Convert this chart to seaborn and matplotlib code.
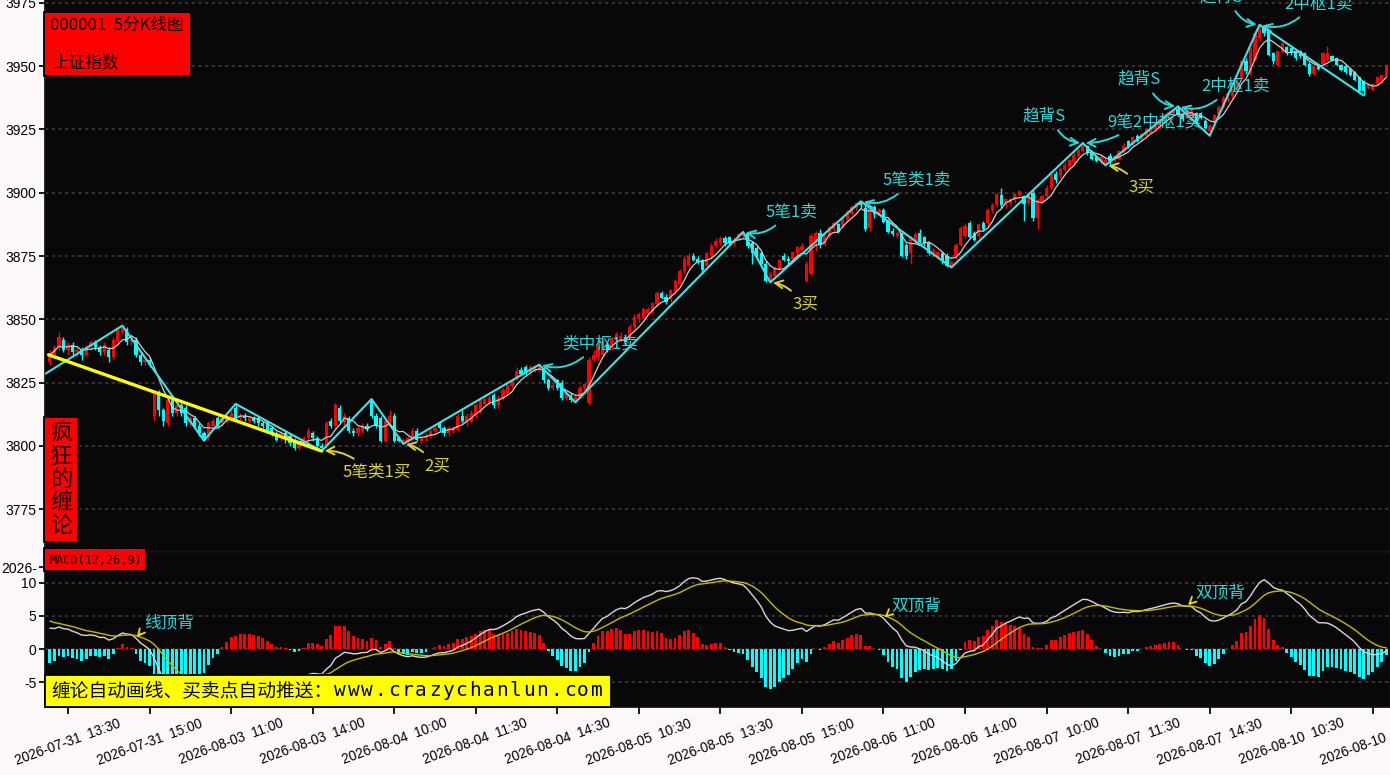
import numpy as np
import pandas as pd
import matplotlib
matplotlib.use("Agg")
import matplotlib.pyplot as plt
from matplotlib.patches import Rectangle
import seaborn as sns

# 5-minute bars of 000001, 2026-07-31 13:10 ... 2026-08-10 13:45 (one row per day)
opens = [
    3833, 3836, 3839, 3842, 3838, 3840, 3837, 3838, 3836, 3839, 3841, 3839, 3837, 3838, 3835, 3841, 3845, 3846, 3841, 3842, 3836, 3833, 3834,
    3812, 3821, 3814, 3809, 3818, 3813, 3816, 3815, 3809, 3811, 3808, 3805, 3803, 3808, 3811, 3809, 3810, 3811, 3815, 3811, 3812, 3810, 3811, 3811,
    3809, 3809, 3807, 3805, 3803, 3805, 3804, 3802, 3799, 3801, 3803, 3805, 3803, 3800, 3800, 3810, 3808, 3815, 3809, 3811, 3806, 3805, 3806, 3808,
    3818, 3812, 3811, 3802, 3809.5, 3812, 3803, 3802, 3802, 3802.5, 3806, 3802, 3803, 3804, 3806, 3809, 3807, 3805, 3806, 3806.5, 3812, 3809, 3810, 3812,
    3814, 3816.5, 3817, 3820, 3816, 3819, 3821, 3823.5, 3827, 3830, 3831, 3829, 3829.5, 3830, 3830, 3826, 3823, 3826, 3825, 3819, 3820, 3818, 3819.5, 3823,
    3817, 3834, 3835, 3836, 3840, 3839, 3842, 3842, 3843, 3843.5, 3847, 3850, 3850.5, 3852.5, 3853, 3856, 3860.5, 3859, 3858, 3861, 3864, 3869, 3871, 3875,
    3874, 3873.5, 3871, 3875, 3879, 3880, 3882, 3882.5, 3880, 3882, 3883, 3884, 3880, 3878, 3876, 3872, 3865, 3867, 3870, 3875, 3874, 3874, 3876, 3877.5,
    3865, 3868, 3880, 3884, 3879.5, 3883, 3885.5, 3887.5, 3887, 3889.5, 3891.5, 3894, 3896, 3894, 3886, 3894.5, 3892, 3893, 3889, 3885, 3883, 3884, 3879.5, 3876,
    3881, 3884, 3882.5, 3880, 3876, 3875, 3876, 3875, 3871, 3875, 3879.5, 3883, 3888, 3884, 3883, 3888, 3888, 3893, 3895, 3899, 3895, 3896, 3897, 3899,
    3898.5, 3896, 3900, 3890, 3896.5, 3898.5, 3902, 3907.5, 3907, 3909, 3910, 3912, 3914.5, 3916.5, 3918.5, 3916, 3914, 3912.5, 3911.5, 3914.5, 3912.5, 3913.5, 3916, 3920.5,
    3919, 3922.5, 3921, 3922.5, 3923.5, 3925, 3926, 3928.5, 3930, 3931, 3933, 3931, 3930, 3930.5, 3931.5, 3931.5, 3928.5, 3924.5, 3928, 3931, 3934, 3936.5, 3938, 3940.5,
    3945, 3952, 3947, 3952.5, 3961, 3966, 3964, 3955, 3950.5, 3955.5, 3957.5, 3957, 3956, 3956, 3955, 3951, 3947, 3950.5, 3951, 3952.5, 3954, 3953, 3950.5, 3950,
    3949, 3947.5, 3945.5, 3944, 3941.5, 3940.5, 3943, 3944, 3946,
]
closes = [
    3836, 3839, 3843, 3838, 3840, 3837, 3838, 3836, 3839, 3841, 3839, 3837, 3840, 3835, 3842, 3846, 3846.5, 3841, 3842, 3836, 3833, 3834, 3832,
    3821, 3814, 3810, 3818, 3813, 3816, 3813, 3809, 3811, 3808, 3805, 3803, 3809, 3810, 3808, 3811, 3812, 3813, 3811, 3812, 3811, 3811, 3810, 3809,
    3808, 3806, 3805, 3802.5, 3805, 3803, 3801, 3799, 3801, 3803, 3806, 3803, 3800, 3799, 3809, 3808, 3816, 3810, 3812, 3806, 3805, 3807, 3808, 3807,
    3812, 3808, 3802, 3810, 3812, 3802, 3802, 3802.5, 3803, 3806, 3802.5, 3803, 3804, 3806, 3807, 3807, 3805, 3807, 3807.5, 3812, 3810, 3812, 3813, 3816,
    3818, 3818.5, 3819, 3816, 3819, 3822, 3824, 3826, 3829.5, 3828.5, 3829, 3831, 3831.5, 3832, 3826, 3823, 3824, 3823, 3819, 3820.5, 3818, 3819.5, 3823, 3824.5,
    3834, 3836, 3839, 3841, 3838, 3842.5, 3844, 3843.5, 3841, 3847, 3851, 3852, 3854, 3854, 3856.5, 3860.5, 3858.5, 3857, 3861.5, 3865, 3869, 3874, 3875, 3873.5,
    3872.5, 3869.5, 3876, 3879, 3881, 3882, 3880, 3880, 3881.5, 3883.5, 3884, 3879, 3876, 3875, 3872, 3865, 3868, 3870, 3873.5, 3873.5, 3873, 3876.5, 3878.5, 3879,
    3872, 3883, 3884, 3879.5, 3883.5, 3886.5, 3888, 3884.5, 3890.5, 3892.5, 3894.5, 3896, 3895, 3885.5, 3893.5, 3891.5, 3893, 3888.5, 3884.5, 3883.5, 3884, 3875, 3875, 3882,
    3883.5, 3880.5, 3880, 3876, 3877.5, 3876.5, 3873, 3871, 3872.5, 3879.5, 3886, 3887, 3882.5, 3881.5, 3887.5, 3885.5, 3893, 3895, 3899.5, 3895, 3897.5, 3897.5, 3899.5, 3900.5,
    3895.5, 3899, 3890, 3897, 3898.5, 3902, 3907, 3905, 3909.5, 3911, 3913, 3915, 3917, 3919, 3915.5, 3913.5, 3912.5, 3914, 3913, 3912.5, 3914.5, 3916.5, 3918.5, 3918,
    3922, 3920.5, 3923, 3925, 3926, 3927.5, 3929, 3930.5, 3932, 3932.5, 3931, 3929, 3932.5, 3933, 3927.5, 3929.5, 3925.5, 3926.5, 3930.5, 3934, 3937.5, 3939.5, 3941, 3944.5,
    3952, 3948, 3957, 3963, 3965.5, 3963, 3954.5, 3952, 3956, 3959, 3955, 3955, 3953, 3954, 3950.5, 3947, 3950, 3949, 3955, 3955, 3952.5, 3950.5, 3948.5, 3947.5,
    3946.5, 3944.5, 3940, 3940, 3943, 3943, 3945.5, 3946.5, 3950.5,
]
highs = [
    3838, 3840, 3845, 3843, 3841, 3841, 3839, 3839, 3840, 3842, 3842, 3840, 3841, 3839, 3843, 3847, 3847.5, 3847, 3844, 3843, 3837, 3835, 3835,
    3822, 3822, 3815, 3819, 3819, 3817, 3817, 3816, 3812, 3812, 3809, 3806, 3810, 3811, 3812, 3812, 3813, 3814, 3816.5, 3813, 3813, 3812, 3812, 3812,
    3810, 3810, 3808, 3806, 3806, 3806, 3805, 3803, 3802, 3804, 3807, 3806, 3804, 3801, 3810, 3811, 3817, 3816, 3813, 3812, 3807, 3808, 3809, 3809,
    3818.5, 3813, 3812, 3811, 3814, 3813, 3804, 3803, 3804, 3807, 3807, 3804, 3805, 3807, 3808, 3810, 3808, 3808, 3808, 3813, 3814, 3813, 3814, 3817,
    3819, 3820, 3820, 3821, 3820, 3823, 3825, 3827, 3831, 3831, 3832, 3832, 3832, 3832.1, 3831, 3827, 3825, 3826.5, 3826, 3821, 3821, 3820, 3824, 3825,
    3835, 3838, 3840, 3842, 3841, 3843, 3845, 3845, 3844, 3848, 3852, 3853, 3855, 3855, 3857, 3861, 3861, 3860, 3862, 3866, 3870, 3875, 3876, 3876,
    3875, 3874, 3877, 3880, 3882, 3883, 3883, 3883, 3882.5, 3884, 3884.5, 3884.5, 3881, 3879, 3877, 3873, 3869, 3871, 3874, 3876, 3875, 3877, 3879, 3880,
    3873, 3884, 3885, 3885.5, 3884, 3887, 3889, 3888, 3891, 3893, 3895, 3896.5, 3896.6, 3895, 3894, 3895, 3894, 3894, 3889.5, 3886, 3885, 3884.5, 3880, 3883,
    3884, 3885.5, 3883, 3881, 3878, 3877, 3877, 3876, 3873, 3880, 3887, 3888, 3889, 3885, 3888, 3889, 3894, 3896, 3900, 3902, 3898, 3898, 3900, 3901,
    3899, 3900, 3901, 3898, 3899, 3903, 3908, 3908.5, 3910, 3912, 3913.5, 3916, 3918, 3919.6, 3919, 3917, 3915, 3915, 3914, 3915.5, 3915, 3917, 3919.5, 3921,
    3922.5, 3923, 3923.5, 3925.5, 3926.5, 3928, 3929.5, 3931, 3932.5, 3933, 3934.1, 3931.5, 3933, 3934, 3932, 3932, 3929, 3927, 3931, 3934.5, 3938, 3940, 3941.5, 3945,
    3952.5, 3953, 3957.5, 3964, 3966.3, 3966, 3964.5, 3955.5, 3956.5, 3959.5, 3958, 3957.5, 3956.5, 3956.5, 3955.5, 3951.5, 3950.5, 3951, 3955.5, 3958, 3954.5, 3953.5, 3951, 3950.5,
    3949.5, 3948, 3946, 3944.5, 3943.5, 3943.5, 3946, 3947, 3951,
]
lows = [
    3832, 3835, 3838, 3837, 3836, 3836, 3835, 3834, 3835, 3838, 3838, 3836, 3836, 3833, 3834, 3840, 3844, 3840, 3840, 3835, 3832, 3832, 3831,
    3810, 3812, 3808, 3808, 3812, 3812, 3812, 3808, 3808, 3807, 3804, 3802, 3802.5, 3807, 3807, 3808, 3809, 3810, 3810, 3810, 3810, 3809, 3809, 3808,
    3807, 3805, 3804, 3802, 3802, 3801, 3800, 3798.5, 3798.5, 3800, 3802, 3802, 3799, 3798, 3799, 3807, 3807, 3809, 3808, 3805, 3804, 3804, 3805, 3806,
    3811, 3807, 3801.5, 3801.5, 3809, 3801.5, 3801.5, 3800.8, 3801, 3802, 3802, 3801, 3802, 3803, 3805, 3806, 3804, 3804, 3805, 3806, 3809, 3808, 3809, 3811,
    3813, 3816, 3816, 3815, 3815, 3818, 3820, 3823, 3826, 3828, 3828, 3828, 3829, 3829, 3825, 3822, 3822, 3822, 3818, 3818, 3817.5, 3817.2, 3819, 3822,
    3816, 3833, 3834, 3835, 3837, 3838, 3841, 3841, 3840, 3843, 3846, 3849, 3850, 3852, 3852, 3855, 3858, 3856, 3857, 3860, 3864, 3868, 3870, 3873,
    3872, 3868, 3870, 3874, 3878, 3879.5, 3879, 3879, 3879, 3881, 3882, 3878, 3872, 3874, 3871, 3864.8, 3864.6, 3866, 3869, 3873, 3872, 3873, 3875, 3877,
    3864.8, 3867, 3877, 3878, 3879, 3882, 3885, 3884, 3886, 3889, 3891, 3893, 3894, 3885, 3885, 3890, 3891, 3888, 3884, 3883, 3882, 3874.5, 3874, 3872,
    3880, 3880, 3879, 3875.5, 3875, 3874, 3872, 3870.6, 3870.5, 3874, 3879, 3882, 3882, 3881, 3882, 3885, 3887, 3892, 3894.5, 3894, 3894, 3895, 3896, 3898.5,
    3889, 3895, 3889, 3885.5, 3896, 3898, 3901, 3904, 3906, 3908, 3909, 3911.5, 3914, 3916, 3915, 3913, 3912, 3911.5, 3910.8, 3911, 3912, 3913, 3915.5, 3917.5,
    3918.5, 3920, 3920.5, 3922, 3923, 3924.5, 3925.5, 3928, 3929.5, 3930.5, 3930.5, 3928.5, 3929.5, 3930, 3927, 3929, 3925, 3922.5, 3927.5, 3930.5, 3933.5, 3936, 3937.5, 3940,
    3944.5, 3947, 3946.5, 3952, 3960, 3962, 3954, 3951, 3950, 3955, 3954.5, 3954.5, 3952.5, 3953, 3950, 3946, 3946.5, 3948.5, 3950.5, 3952, 3952, 3950, 3948, 3947,
    3946, 3944, 3939.5, 3938.4, 3941, 3940, 3942.5, 3943.5, 3945.5,
]

# strokes (bi) pivots: bar number and price
bi_bars = [-1, 16, 34, 41, 60, 71, 78, 108, 116, 153, 159, 179, 199, 228, 233, 249, 256, 267, 290]
bi_prices = [3828.5, 3847.5, 3802.1, 3816.6, 3798.0, 3818.5, 3800.8, 3832.1, 3817.2, 3884.5,
             3864.6, 3896.6, 3870.5, 3919.6, 3910.8, 3934.1, 3922.5, 3966.3, 3938.4]
# yellow trend line
trend_bars = [-0.3, 60]
trend_prices = [3836.0, 3798.0]

# MACD state carried in from the bars before the window
ema_fast0, ema_slow0, dea0 = 3837.0, 3833.5, 4.5

sell_signals = [("类中枢1卖", 7), ("5笔1卖", 9), ("5笔类1卖", 11), ("趋背S", 13), ("9笔2中枢1卖", 13),
                ("趋背S", 15), ("2中枢1卖", 15), ("趋背S", 17), ("2中枢1卖", 17)]
buy_signals = [("5笔类1买", 4), ("2买", 6), ("3买", 10), ("3买", 14)]
macd_signals = [("线顶背", 19), ("双顶背", 184), ("双顶背", 251)]

tick_labels = ["2026-07-31  13:30", "2026-07-31  15:00", "2026-08-03  11:00", "2026-08-03  14:00",
               "2026-08-04  10:00", "2026-08-04  11:30", "2026-08-04  14:30", "2026-08-05  10:30",
               "2026-08-05  13:30", "2026-08-05  15:00", "2026-08-06  11:00", "2026-08-06  14:00",
               "2026-08-07  10:00", "2026-08-07  11:30", "2026-08-07  14:30", "2026-08-10  10:30",
               "2026-08-10  13:30"]

# ---------------------------------------------------------------
sns.set_theme(style="ticks")
plt.rcParams['font.family'] = ['Noto Sans CJK SC', 'DejaVu Sans']
plt.rcParams['axes.unicode_minus'] = False

RED = "#ff0000"
CYAN = "#00ffff"
BI_COLOR = "#3ee4e6"
TXT_CYAN = "#2ed6d6"
TXT_YEL = "#d8d23c"
BG = "#fcf8f7"
PANEL = "#080808"
GRID = "#3a3a3a"

W, H = 1390, 775
fig = plt.figure(figsize=(W / 100, H / 100), dpi=100, facecolor=BG)
ax = fig.add_axes([45 / W, 1 - 551 / H, 1345 / W, 551 / H])
ax2 = fig.add_axes([45 / W, 1 - 706.5 / H, 1345 / W, 155 / H], sharex=ax)

df = pd.DataFrame({"open": opens, "high": highs, "low": lows, "close": closes})
x = np.arange(len(df))
up = (df.close >= df.open).values
cols = np.where(up, RED, CYAN)

# candles
ax.vlines(x, df.low, df.high, colors=cols, lw=1, zorder=3)
ax.bar(x, (df.close - df.open).abs().clip(lower=0.25), bottom=np.minimum(df.open, df.close),
       width=0.7, color=cols, linewidth=0, zorder=4)
ma5 = df.close.rolling(5, min_periods=1).mean()
sns.lineplot(x=x, y=ma5.values, ax=ax, color="#cccccc", lw=0.9, zorder=5)
sns.lineplot(x=bi_bars, y=bi_prices, ax=ax, color=BI_COLOR, lw=1.5, sort=False, estimator=None, zorder=6)
sns.lineplot(x=trend_bars, y=trend_prices, ax=ax, color="#ffff00", lw=2.4, sort=False, estimator=None, zorder=6)

# MACD(12,26,9)
e12, e26, d = ema_fast0, ema_slow0, dea0
dif, dea = [], []
for c in closes:
    e12 += (c - e12) * 2 / 13
    e26 += (c - e26) * 2 / 27
    v = e12 - e26
    d += (v - d) * 2 / 10
    dif.append(v)
    dea.append(d)
dif = np.array(dif)
dea = np.array(dea)
hist = 2 * (dif - dea)
ax2.bar(x, hist, width=0.62, color=np.where(hist >= 0, RED, CYAN), linewidth=0, zorder=3)
sns.lineplot(x=x, y=dif, ax=ax2, color="#d8d8d8", lw=1.0, zorder=4)
sns.lineplot(x=x, y=dea, ax=ax2, color="#c8b800", lw=1.0, zorder=4)

# axes styling
for a in (ax, ax2):
    a.set_facecolor(PANEL)
    for s in a.spines.values():
        s.set_color("#111111")
    a.set_xlim(-1.08, 295.8)
    a.tick_params(axis="y", length=4, color="black", labelsize=10, labelcolor="black", pad=2)

ax.set_ylim(3758.5, 3976.1)
yt = list(range(3775, 3976, 25))
ax.set_yticks(yt)
for v in yt:
    ax.axhline(v, color=GRID, lw=1.2, ls=(0, (2, 2)), zorder=1)
ax.tick_params(axis="x", labelbottom=False, length=5, color="#555555", direction="out")

ax2.set_ylim(-8.71, 14.77)
ax2.set_yticks([-5, 0, 5, 10, 12.4])
ax2.set_yticklabels(["-5", "0", "5", "10", "2026-"])
for v in [-5, 0, 5, 10]:
    ax2.axhline(v, color=GRID, lw=1.2, ls=(0, (2, 2)), zorder=1)
ax2.set_xticks(list(range(4, 296, 18)))
ax2.set_xticklabels(tick_labels, rotation=20, ha="center", va="top")
ax2.tick_params(axis="x", length=5, color="black", labelsize=9.8, labelcolor="black", pad=2)
for lbl in ax.get_yticklabels() + ax2.get_yticklabels() + ax2.get_xticklabels():
    lbl.set_fontfamily(["Liberation Sans", "DejaVu Sans"])
ax.set_xlabel("")
ax2.set_xlabel("")

# signal annotations (offsets in pixels from the pivot)
sell_layout = [((61, 21), (0.35, 0), -0.3), ((48, 20), (0.3, 0), -0.3), ((56, 21), (0.3, 0), -0.3),
               ((-39, 27), (0.75, 0), 0.3), ((72, 21), (0.2, 0), -0.15), ((-39, 27), (0.75, 0), 0.3),
               ((58, 20), (0.3, 0), -0.3), ((-38, 28), (0.75, 0), 0.3), ((59, 21), (0.3, 0), -0.3)]
for (label, k), (off, rp, rad) in zip(sell_signals, sell_layout):
    ax.annotate(label, xy=(bi_bars[k], bi_prices[k]), xytext=off, textcoords="offset pixels",
                ha="center", va="center", fontsize=12, color=TXT_CYAN, zorder=8, annotation_clip=False,
                arrowprops=dict(arrowstyle="->", color=TXT_CYAN, lw=1.4, mutation_scale=14,
                                shrinkA=2, shrinkB=2, relpos=rp, connectionstyle=f"arc3,rad={rad}"))

buy_layout = [((55, -21), (0.26, 1), 0.2), ((34, -22), (0.15, 1), 0.2),
              ((35, -22), (0.15, 1), 0.2), ((36, -22), (0.15, 1), 0.2)]
for (label, k), (off, rp, rad) in zip(buy_signals, buy_layout):
    ax.annotate(label, xy=(bi_bars[k], bi_prices[k]), xytext=off, textcoords="offset pixels",
                ha="center", va="center", fontsize=12, color=TXT_YEL, zorder=8,
                arrowprops=dict(arrowstyle="->", color=TXT_YEL, lw=1.4, mutation_scale=14,
                                shrinkA=2, shrinkB=2, relpos=rp, connectionstyle=f"arc3,rad={rad}"))

macd_layout = [(33, 15), (33, 12), (33, 13)]
for (label, i), off in zip(macd_signals, macd_layout):
    ax2.annotate(label, xy=(i, dif[i]), xytext=off, textcoords="offset pixels",
                 ha="center", va="center", fontsize=12, color=TXT_CYAN, zorder=8,
                 arrowprops=dict(arrowstyle="->", color="#e8e000", lw=1.3, mutation_scale=12,
                                 shrinkA=1, shrinkB=1, relpos=(0, 0.2)))


# boxes drawn on the figure (pixel rectangles, top-left origin)
def fig_box(x0, y0, x1, y1, face):
    fig.add_artist(Rectangle((x0 / W, 1 - y1 / H), (x1 - x0) / W, (y1 - y0) / H,
                             transform=fig.transFigure, facecolor=face, edgecolor="black",
                             lw=1.3, zorder=20))


def fig_text(px, py, s, **kw):
    fig.text(px / W, 1 - py / H, s, zorder=21, **kw)


fig_box(44, 12, 191, 76, RED)
fig_text(50, 25, "000001  5分K线图", fontsize=12, color="black", va="center", ha="left")
fig_text(52, 63, "上证指数", fontsize=12, color="black", va="center", ha="left")

fig_box(44, 417, 78, 542, RED)
for i, ch in enumerate("疯狂的缠论"):
    fig_text(61, 433 + 23.2 * i, ch, fontsize=16, color="#1a0000", va="center", ha="center")

fig_box(44, 548, 146, 571, RED)
fig_text(50, 560, "MACD(12,26,9)", fontsize=8.5, color="black", va="center", ha="left",
         family="DejaVu Sans Mono")

fig_box(45, 675, 611, 707, "#ffff00")
fig_text(51, 692, "缠论自动画线、买卖点自动推送：", fontsize=13.5, color="black", va="center", ha="left")
for i, ch in enumerate("www.crazychanlun.com"):
    fig_text(340 + 13.5 * i, 691, ch, fontsize=14, color="black", va="center", ha="center",
             family="DejaVu Sans Mono")

fig.savefig("out.png", dpi=100, facecolor=BG)
